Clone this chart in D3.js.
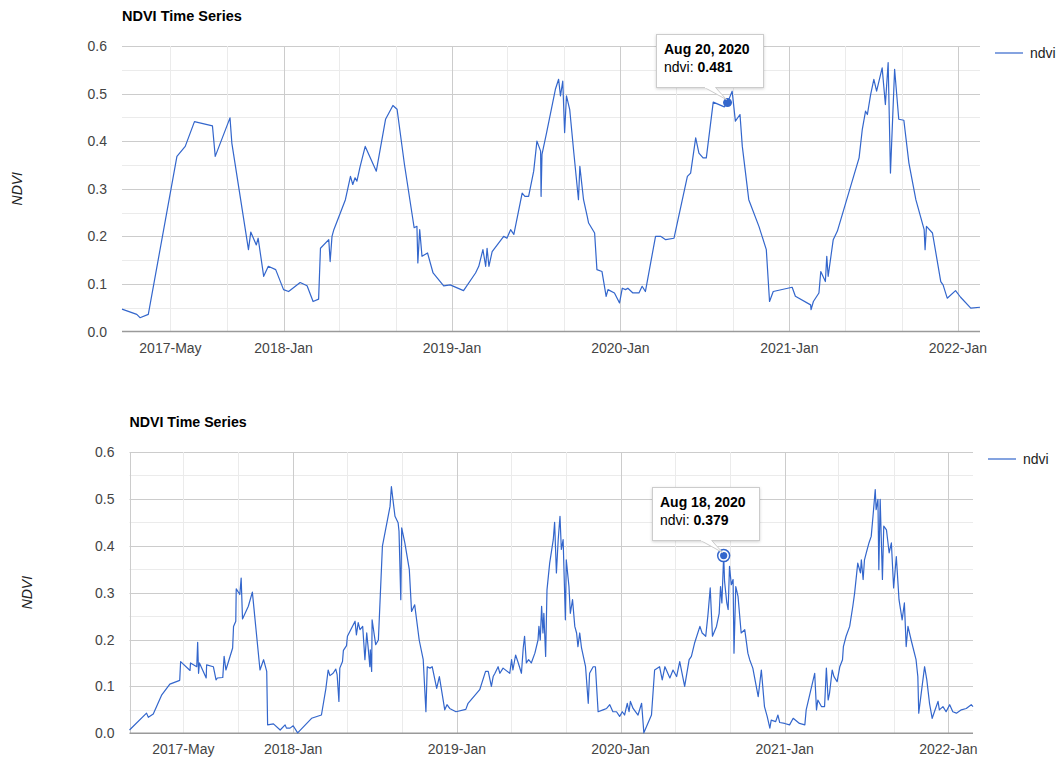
<!DOCTYPE html>
<html>
<head>
<meta charset="utf-8">
<script src="https://cdn.jsdelivr.net/npm/d3@7"></script>
<style>
  body { margin: 0; background: #fff; font-family: Arial, "Liberation Sans", sans-serif; }
</style>
</head>
<body>
<div id="vis"></div>
<script>
// days are counted from this date
const seriesStart = new Date(2017, 0, 1);

// upper chart (sparse series)
const topDays = [
  15, 47, 54, 72, 134, 152, 172, 211, 217, 249,
  253, 289, 294, 306, 310, 322, 332, 348, 365, 376,
  401, 416, 429, 441, 445, 463, 466, 470, 474, 488,
  499, 510, 515, 520, 524, 531, 542, 566, 586, 602,
  611, 627, 648, 654, 656, 660, 665, 677, 689, 712,
  726, 755, 781, 788, 797, 803, 806, 810, 817, 842,
  849, 857, 864, 882, 888, 896, 907, 914, 922, 923,
  925, 935, 954, 961, 965, 970, 974, 978, 985, 994,
  1004, 1007, 1015, 1023, 1026, 1039, 1044, 1055, 1064, 1068,
  1082, 1093, 1099, 1106, 1111, 1122, 1135, 1142, 1149, 1171,
  1182, 1193, 1211, 1240, 1247, 1258, 1265, 1274, 1281, 1296,
  1320, 1327, 1337, 1344, 1354, 1359, 1373, 1395, 1411, 1418,
  1426, 1467, 1474, 1507, 1508, 1513, 1525, 1529, 1539, 1542,
  1545, 1556, 1565, 1612, 1619, 1626, 1630, 1637, 1644, 1650,
  1662, 1669, 1675, 1680, 1689, 1698, 1709, 1720, 1735, 1753,
  1755, 1758, 1771, 1789, 1794, 1803, 1821, 1832, 1854, 1874
];
const topNdvi = [
  0.047, 0.036, 0.029, 0.036, 0.368, 0.389, 0.441, 0.432, 0.368, 0.449,
  0.396, 0.172, 0.209, 0.182, 0.196, 0.116, 0.137, 0.130, 0.088, 0.084,
  0.103, 0.096, 0.063, 0.068, 0.175, 0.193, 0.147, 0.200, 0.214, 0.249,
  0.277, 0.326, 0.309, 0.323, 0.316, 0.347, 0.389, 0.337, 0.446, 0.475,
  0.467, 0.351, 0.218, 0.221, 0.144, 0.214, 0.158, 0.165, 0.123, 0.096,
  0.098, 0.086, 0.123, 0.137, 0.172, 0.137, 0.175, 0.137, 0.168, 0.200,
  0.196, 0.214, 0.204, 0.291, 0.284, 0.284, 0.337, 0.400, 0.379, 0.284,
  0.372, 0.418, 0.509, 0.530, 0.495, 0.526, 0.418, 0.495, 0.467, 0.375,
  0.277, 0.347, 0.277, 0.242, 0.228, 0.207, 0.130, 0.126, 0.074, 0.088,
  0.081, 0.060, 0.091, 0.088, 0.091, 0.081, 0.081, 0.095, 0.084, 0.200,
  0.200, 0.193, 0.196, 0.326, 0.333, 0.407, 0.375, 0.365, 0.365, 0.482,
  0.472, 0.481, 0.505, 0.442, 0.456, 0.389, 0.277, 0.221, 0.172, 0.063,
  0.084, 0.093, 0.074, 0.056, 0.046, 0.063, 0.081, 0.126, 0.105, 0.158,
  0.116, 0.193, 0.211, 0.365, 0.425, 0.463, 0.456, 0.498, 0.530, 0.505,
  0.554, 0.477, 0.565, 0.333, 0.551, 0.446, 0.444, 0.354, 0.277, 0.214,
  0.172, 0.221, 0.207, 0.105, 0.098, 0.070, 0.086, 0.072, 0.049, 0.051
];

// lower chart (denser series)
const bottomDays = [
  0, 38, 42, 53, 72, 90, 112, 114, 135, 136,
  150, 152, 154, 156, 171, 172, 187, 193, 196, 208,
  211, 215, 230, 232, 237, 238, 246, 249, 252, 265,
  274, 291, 299, 306, 308, 321, 336, 347, 350, 358,
  365, 375, 406, 428, 438, 443, 447, 454, 460, 463,
  467, 469, 475, 477, 484, 486, 503, 506, 510, 514,
  520, 525, 529, 532, 536, 537, 540, 541, 549, 555,
  564, 581, 584, 592, 599, 601, 605, 607, 614, 624,
  629, 636, 646, 655, 661, 664, 670, 675, 685, 691,
  703, 708, 714, 728, 750, 755, 781, 794, 800, 807,
  811, 815, 822, 826, 833, 848, 852, 855, 861, 867,
  874, 878, 881, 885, 890, 896, 904, 911, 913, 916,
  919, 922, 924, 928, 931, 937, 945, 948, 952, 956,
  960, 963, 967, 972, 974, 980, 983, 988, 993, 997,
  1000, 1004, 1008, 1017, 1023, 1026, 1034, 1039, 1045, 1056,
  1064, 1071, 1078, 1086, 1093, 1099, 1104, 1110, 1114, 1117,
  1123, 1134, 1142, 1147, 1164, 1171, 1182, 1188, 1194, 1205,
  1212, 1220, 1227, 1238, 1248, 1253, 1260, 1272, 1277, 1285,
  1290, 1295, 1300, 1309, 1315, 1318, 1321, 1325, 1327, 1332,
  1335, 1338, 1342, 1346, 1348, 1352, 1357, 1364, 1372, 1379,
  1383, 1390, 1402, 1409, 1416, 1422, 1428, 1431, 1441, 1446,
  1450, 1461, 1472, 1480, 1494, 1506, 1509, 1528, 1532, 1535,
  1543, 1550, 1554, 1558, 1561, 1567, 1571, 1578, 1584, 1590,
  1592, 1598, 1606, 1613, 1617, 1624, 1630, 1632, 1636, 1639,
  1643, 1649, 1654, 1658, 1663, 1665, 1669, 1671, 1674, 1679,
  1682, 1688, 1694, 1699, 1704, 1710, 1716, 1723, 1728, 1732,
  1736, 1743, 1754, 1758, 1760, 1766, 1773, 1778, 1784, 1790,
  1795, 1803, 1806, 1814, 1821, 1829, 1836, 1844, 1855, 1866,
  1877, 1881
];
const bottomNdvi = [
  0.007, 0.043, 0.034, 0.041, 0.082, 0.105, 0.113, 0.153, 0.134, 0.150,
  0.142, 0.194, 0.128, 0.150, 0.118, 0.146, 0.142, 0.114, 0.118, 0.119,
  0.164, 0.135, 0.182, 0.228, 0.239, 0.308, 0.296, 0.331, 0.244, 0.271,
  0.301, 0.135, 0.157, 0.132, 0.018, 0.020, 0.007, 0.018, 0.011, 0.011,
  0.016, 0.001, 0.032, 0.039, 0.096, 0.135, 0.123, 0.128, 0.137, 0.125,
  0.068, 0.139, 0.153, 0.177, 0.187, 0.207, 0.239, 0.210, 0.236, 0.221,
  0.228, 0.157, 0.214, 0.185, 0.142, 0.178, 0.132, 0.242, 0.189, 0.199,
  0.399, 0.484, 0.526, 0.463, 0.449, 0.431, 0.285, 0.438, 0.406, 0.349,
  0.260, 0.274, 0.199, 0.157, 0.046, 0.142, 0.139, 0.142, 0.096, 0.121,
  0.050, 0.061, 0.053, 0.046, 0.051, 0.064, 0.093, 0.132, 0.132, 0.100,
  0.121, 0.128, 0.142, 0.128, 0.139, 0.128, 0.157, 0.135, 0.167, 0.150,
  0.128, 0.182, 0.207, 0.150, 0.157, 0.150, 0.171, 0.199, 0.228, 0.199,
  0.271, 0.214, 0.256, 0.164, 0.306, 0.363, 0.413, 0.450, 0.342, 0.413,
  0.463, 0.392, 0.413, 0.242, 0.370, 0.313, 0.256, 0.285, 0.228, 0.214,
  0.185, 0.214, 0.182, 0.142, 0.064, 0.128, 0.142, 0.142, 0.046, 0.050,
  0.053, 0.061, 0.046, 0.046, 0.036, 0.046, 0.039, 0.064, 0.046, 0.068,
  0.053, 0.039, 0.064, 0.001, 0.039, 0.135, 0.142, 0.114, 0.142, 0.118,
  0.135, 0.121, 0.153, 0.100, 0.157, 0.164, 0.192, 0.228, 0.214, 0.207,
  0.253, 0.310, 0.207, 0.228, 0.256, 0.313, 0.278, 0.379, 0.324, 0.278,
  0.264, 0.356, 0.317, 0.328, 0.171, 0.313, 0.292, 0.214, 0.221, 0.171,
  0.157, 0.139, 0.078, 0.135, 0.057, 0.036, 0.011, 0.028, 0.025, 0.039,
  0.023, 0.021, 0.018, 0.032, 0.021, 0.018, 0.050, 0.128, 0.050, 0.071,
  0.057, 0.057, 0.139, 0.071, 0.085, 0.135, 0.121, 0.110, 0.142, 0.157,
  0.185, 0.207, 0.228, 0.271, 0.299, 0.363, 0.342, 0.370, 0.328, 0.370,
  0.385, 0.406, 0.420, 0.463, 0.520, 0.477, 0.499, 0.349, 0.499, 0.328,
  0.442, 0.434, 0.385, 0.406, 0.310, 0.377, 0.285, 0.242, 0.278, 0.185,
  0.228, 0.199, 0.157, 0.121, 0.043, 0.089, 0.142, 0.114, 0.064, 0.032,
  0.046, 0.068, 0.050, 0.057, 0.046, 0.061, 0.046, 0.043, 0.050, 0.053,
  0.061, 0.057
];

const yTicks = [0, 0.1, 0.2, 0.3, 0.4, 0.5, 0.6];
const yMinorTicks = [0.05, 0.15, 0.25, 0.35, 0.45, 0.55];
const xLabelDates = ['2017-05-01', '2018-01-01', '2019-01-01', '2020-01-01', '2021-01-01', '2022-01-01'];
const chartTitle = 'NDVI Time Series';
const seriesName = 'ndvi';
const topHoverDate = '2020-08-20';
const bottomHoverDate = '2020-08-18';

const lineColor = '#3366cc';
const parseDate = d3.timeParse('%Y-%m-%d');

const svg = d3.select('#vis')
  .append('svg')
  .attr('width', 1062)
  .attr('height', 760);

const defs = svg.append('defs');
const shadow = defs.append('filter').attr('id', 'tipShadow')
  .attr('x', '-20%').attr('y', '-20%').attr('width', '140%').attr('height', '150%');
shadow.append('feDropShadow')
  .attr('dx', 0).attr('dy', 1).attr('stdDeviation', 1.5)
  .attr('flood-color', '#000').attr('flood-opacity', 0.18);

function makeSeries(days, values) {
  return days.map((d, i) => ({ date: d3.timeDay.offset(seriesStart, d), value: values[i] }));
}

function ndviChart(cfg) {
  const data = makeSeries(cfg.days, cfg.values);
  const g = svg.append('g');

  const x = d3.scaleTime()
    .domain(d3.extent(data, d => d.date))
    .range([cfg.left, cfg.right]);
  const y = d3.scaleLinear()
    .domain([0, 0.6])
    .range([cfg.bottom, cfg.top]);

  // horizontal grid
  g.selectAll('.hminor').data(yMinorTicks).enter().append('line')
    .attr('x1', cfg.left).attr('x2', cfg.right)
    .attr('y1', d => Math.round(y(d)) + 0.5).attr('y2', d => Math.round(y(d)) + 0.5)
    .attr('stroke', '#ebebeb');
  g.selectAll('.hmajor').data(yTicks.filter(d => d > 0)).enter().append('line')
    .attr('x1', cfg.left).attr('x2', cfg.right)
    .attr('y1', d => Math.round(y(d)) + 0.5).attr('y2', d => Math.round(y(d)) + 0.5)
    .attr('stroke', '#cccccc');

  // vertical grid every 4 months, January lines darker
  const months = d3.timeMonth.every(4).range(x.domain()[0], x.domain()[1]);
  g.selectAll('.vgrid').data(months).enter().append('line')
    .attr('x1', d => Math.round(x(d)) + 0.5).attr('x2', d => Math.round(x(d)) + 0.5)
    .attr('y1', cfg.top).attr('y2', cfg.bottom)
    .attr('stroke', d => d.getMonth() === 0 ? '#cccccc' : '#ebebeb');

  // baseline
  g.append('line')
    .attr('x1', cfg.left).attr('x2', cfg.right)
    .attr('y1', y(0)).attr('y2', y(0))
    .attr('stroke', '#9a9a9a').attr('stroke-width', 1.6);

  // y labels
  g.selectAll('.ylab').data(yTicks).enter().append('text')
    .attr('x', cfg.left - 15)
    .attr('y', d => y(d))
    .attr('dy', '0.36em')
    .attr('text-anchor', 'end')
    .attr('font-size', 14)
    .attr('fill', '#444')
    .text(d => d3.format('.1f')(d));

  // x labels
  g.selectAll('.xlab').data(xLabelDates.map(parseDate)).enter().append('text')
    .attr('x', d => x(d))
    .attr('y', cfg.bottom + 21)
    .attr('text-anchor', 'middle')
    .attr('font-size', 14)
    .attr('fill', '#444')
    .text(d => d3.timeFormat('%Y-%b')(d));

  g.append('text')
    .attr('x', cfg.left)
    .attr('y', cfg.titleY)
    .attr('font-size', cfg.titleSize)
    .attr('font-weight', 'bold')
    .attr('fill', '#000')
    .text(chartTitle);

  g.append('text')
    .attr('transform', `translate(${cfg.axisTitleX},${(cfg.top + cfg.bottom) / 2}) rotate(-90)`)
    .attr('text-anchor', 'middle')
    .attr('dy', '0.35em')
    .attr('font-size', 14)
    .attr('font-style', 'italic')
    .attr('fill', '#222')
    .text('NDVI');

  const line = d3.line()
    .x(d => x(d.date))
    .y(d => y(d.value));

  g.append('path')
    .datum(data)
    .attr('fill', 'none')
    .attr('stroke', lineColor)
    .attr('stroke-width', 1.2)
    .attr('stroke-linejoin', 'round')
    .attr('d', line);

  // legend
  g.append('line')
    .attr('x1', cfg.legendX).attr('x2', cfg.legendX + 28)
    .attr('y1', cfg.legendY).attr('y2', cfg.legendY)
    .attr('stroke', lineColor).attr('stroke-width', 1.2);
  g.append('text')
    .attr('x', cfg.legendX + 35)
    .attr('y', cfg.legendY)
    .attr('dy', '0.35em')
    .attr('font-size', 14)
    .attr('fill', '#222')
    .text(seriesName);

  // hovered point + tooltip
  const hoverDate = parseDate(cfg.hoverDate);
  const hp = data.find(d => +d.date === +hoverDate);
  const px = x(hp.date);
  const py = y(hp.value);

  if (cfg.ring) {
    g.append('circle').attr('cx', px).attr('cy', py).attr('r', 6)
      .attr('fill', '#fff').attr('stroke', lineColor).attr('stroke-width', 1.5);
    g.append('circle').attr('cx', px).attr('cy', py).attr('r', 3.6).attr('fill', lineColor);
  } else {
    g.append('circle').attr('cx', px).attr('cy', py).attr('r', 4.5).attr('fill', lineColor);
  }

  const boxW = 107;
  const boxH = 53;
  const bx = Math.round(px - 72) + 0.5;
  const by = Math.round(py - 69) + 0.5;
  const tip = g.append('g');
  tip.append('rect')
    .attr('x', bx).attr('y', by)
    .attr('width', boxW).attr('height', boxH)
    .attr('fill', '#fff')
    .attr('stroke', '#cccccc')
    .attr('filter', 'url(#tipShadow)');
  tip.append('path')
    .attr('d', `M${px - 23},${by + boxH} L${px - 1},${py - 3} L${px - 12},${by + boxH}`)
    .attr('fill', '#fff')
    .attr('stroke', '#cccccc');
  tip.append('line')
    .attr('x1', px - 22.5).attr('x2', px - 12.5)
    .attr('y1', by + boxH).attr('y2', by + boxH)
    .attr('stroke', '#fff').attr('stroke-width', 1.5);
  tip.append('text')
    .attr('x', bx + 7.5)
    .attr('y', by + 19.5)
    .attr('font-size', 14)
    .attr('font-weight', 'bold')
    .attr('fill', '#000')
    .text(d3.timeFormat('%b %-d, %Y')(hp.date));
  const t2 = tip.append('text')
    .attr('x', bx + 7.5)
    .attr('y', by + 37.5)
    .attr('font-size', 14)
    .attr('fill', '#000');
  t2.append('tspan').text(seriesName + ': ');
  t2.append('tspan').attr('font-weight', 'bold').text(d3.format('.3f')(hp.value));
}

ndviChart({
  days: topDays, values: topNdvi,
  left: 122, right: 980, top: 46, bottom: 331.5,
  titleY: 20.5, titleSize: 14.5, axisTitleX: 17,
  legendX: 995, legendY: 53,
  hoverDate: topHoverDate, ring: false
});

ndviChart({
  days: bottomDays, values: bottomNdvi,
  left: 129.5, right: 973, top: 452, bottom: 733.3,
  titleY: 426.7, titleSize: 14.2, axisTitleX: 27,
  legendX: 988, legendY: 459,
  hoverDate: bottomHoverDate, ring: true
});
</script>
</body>
</html>
